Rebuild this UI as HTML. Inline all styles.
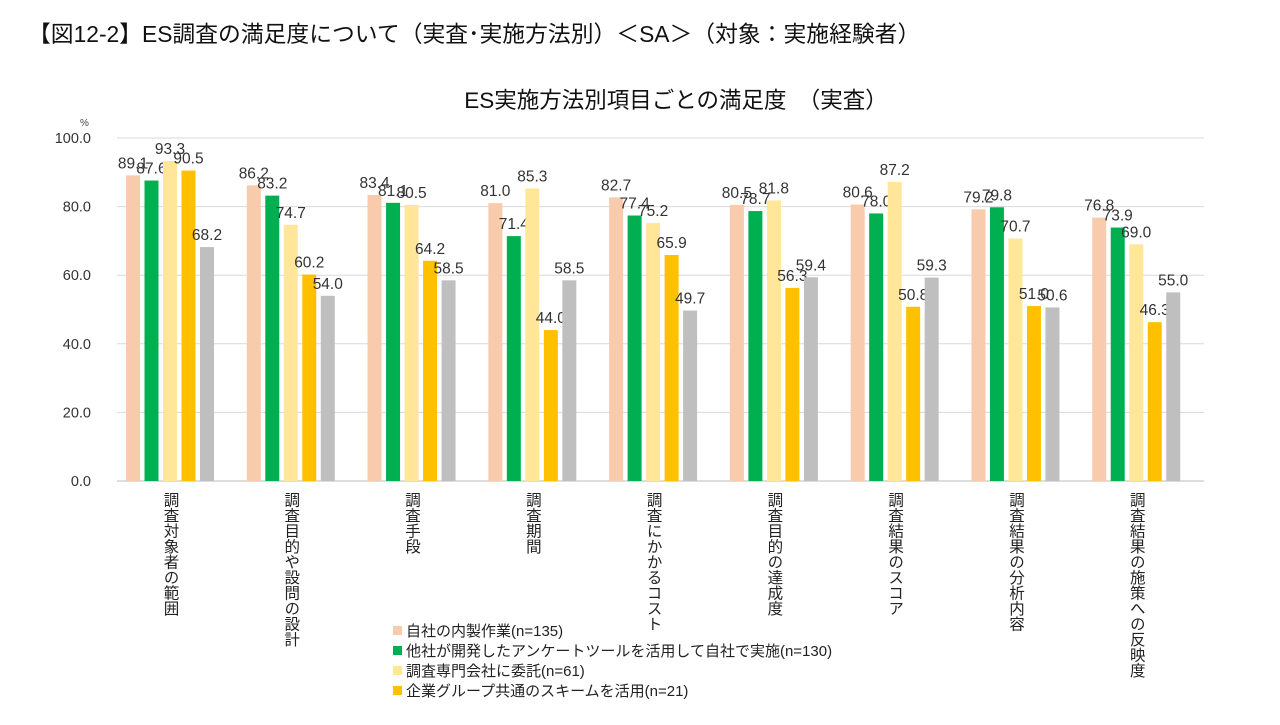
<!DOCTYPE html>
<html><head><meta charset="utf-8"><style>
body{margin:0;background:#fff;width:1280px;height:720px;overflow:hidden;font-family:"Liberation Sans","Noto Sans CJK JP",sans-serif;}
svg text{font-family:"Liberation Sans","Noto Sans CJK JP",sans-serif;}
</style></head><body>
<svg id="c" width="1280" height="720">
<text x="28" y="42" font-size="22.8" fill="#111">【図12-2】ES調査の満足度について（実査･実施方法別）＜SA＞（対象：実施経験者）</text>
<text x="676" y="108" font-size="22.5" fill="#111" text-anchor="middle">ES実施方法別項目ごとの満足度　（実査）</text>
<text x="80" y="126" font-size="10" fill="#444">%</text>
<g id="grid"></g><g id="bars"></g><g id="legend"></g>
</svg>
<script>
const categories=["調査対象者の範囲","調査目的や設問の設計","調査手段","調査期間","調査にかかるコスト","調査目的の達成度","調査結果のスコア","調査結果の分析内容","調査結果の施策への反映度"];
const seriesNames=["自社の内製作業(n=135)","他社が開発したアンケートツールを活用して自社で実施(n=130)","調査専門会社に委託(n=61)","企業グループ共通のスキームを活用(n=21)","その他"];
const s1=[89.1,86.2,83.4,81.0,82.7,80.5,80.6,79.2,76.8];
const s2=[87.6,83.2,81.1,71.4,77.4,78.7,78.0,79.8,73.9];
const s3=[93.3,74.7,80.5,85.3,75.2,81.8,87.2,70.7,69.0];
const s4=[90.5,60.2,64.2,44.0,65.9,56.3,50.8,51.0,46.3];
const s5=[68.2,54.0,58.5,58.5,49.7,59.4,59.3,50.6,55.0];
const yTicks=[0,20,40,60,80,100];
const colors=["#f8cbad","#00b050","#ffe699","#ffc000","#bfbfbf"];
const NS="http://www.w3.org/2000/svg";
const x0=117,x1=1204,yB=481,yT=138;
const y=v=>yB-(v/100)*(yB-yT);
const gw=(x1-x0)/categories.length;
const bx=(i,k)=>x0+i*gw+9+k*18.5;
function mk(t,a,p){const e=document.createElementNS(NS,t);for(const k in a)e.setAttribute(k,a[k]);p.appendChild(e);return e;}
const grid=document.getElementById('grid');
yTicks.forEach(v=>{
  const l=mk('line',{x1:x0,x2:x1,y1:y(v),y2:y(v),stroke:v===0?'#bbb':'#d9d9d9','stroke-width':1},grid);
  
  
  const t=mk('text',{x:91,y:y(v)+5,'font-size':14.5,fill:'#333','text-anchor':'end'},grid);
  t.textContent=v.toFixed(1);
  
  
});
const bars=document.getElementById('bars');
const series=[s1,s2,s3,s4,s5];
series.forEach((s,k)=>s.forEach((v,i)=>{
  const r=mk('rect',{x:bx(i,k),y:y(v),width:14,height:yB-y(v),fill:colors[k]},bars);
  
  
  const t=mk('text',{x:bx(i,k)+7,y:y(v)-7,'font-size':15.5,fill:'#333','text-anchor':'middle'},bars);
  t.textContent=v.toFixed(1);
  
  
}));
categories.forEach((c,i)=>{
  const t=mk('text',{x:bx(i,2)+7,y:492,'font-size':15.5,fill:'#222',style:'writing-mode:vertical-rl;glyph-orientation-vertical:0'},bars);
  t.textContent=c;
  
  
});
const lg=document.getElementById('legend');
for(let k=0;k<4;k++){
  const yy=631+k*20;
  const r=mk('rect',{x:393,y:yy-5,width:9,height:9,fill:colors[k]},lg);
  
  
  const t=mk('text',{x:406,y:yy+5,'font-size':15,fill:'#222'},lg);
  t.textContent=seriesNames[k];
  
  
}
</script>
</body></html>
